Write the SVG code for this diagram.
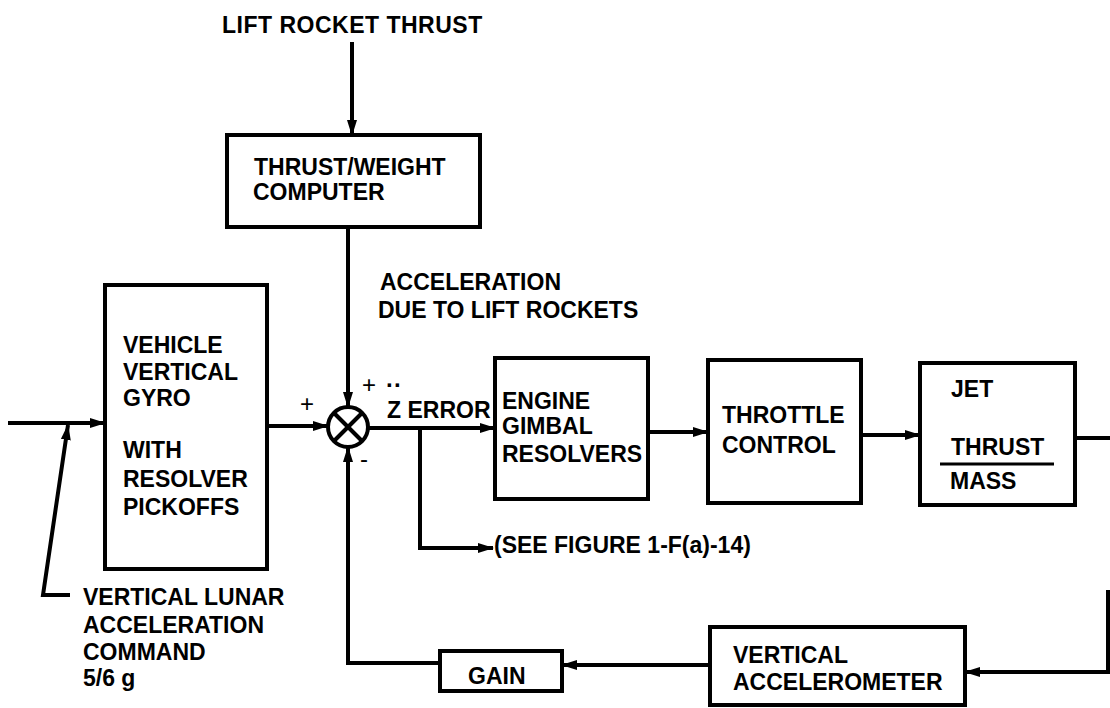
<svg xmlns="http://www.w3.org/2000/svg" width="1110" height="708" viewBox="0 0 1110 708">
<defs>
<marker id="ah" markerUnits="userSpaceOnUse" markerWidth="16" markerHeight="10" refX="15" refY="5" orient="auto">
<path d="M0,0 L16,5 L0,10 z" fill="#000"/>
</marker>
<style>
.box{fill:none;stroke:#000;stroke-width:4}
.ln{fill:none;stroke:#000;stroke-width:4}
.ar{fill:none;stroke:#000;stroke-width:4;marker-end:url(#ah)}
text{font-family:"Liberation Sans",Arial,sans-serif;font-weight:bold;font-size:23px;fill:#000}
.sg{font-weight:normal;font-size:24px}
</style>
</defs>
<rect width="1110" height="708" fill="#fff"/>

<g id="connectors">
<line class="ar" x1="352" y1="42" x2="352" y2="135"/>
<line class="ar" x1="348" y1="227" x2="348" y2="407"/>
<line class="ar" x1="8" y1="423" x2="105" y2="423"/>
<polyline class="ar" points="70,595 43,595 68,425"/>
<line class="ar" x1="267" y1="426" x2="328" y2="426"/>
<line class="ar" x1="368" y1="428" x2="495" y2="428"/>
<polyline class="ar" points="420,428 420,548 493,548"/>
<line class="ar" x1="648" y1="432" x2="708" y2="432"/>
<line class="ar" x1="861" y1="435" x2="920" y2="435"/>
<line class="ln" x1="1075" y1="438" x2="1110" y2="438"/>
<polyline class="ar" points="1108,590 1108,672 965,672"/>
<line class="ar" x1="710" y1="665" x2="562" y2="665"/>
<polyline class="ar" points="440,663 348,663 348,447"/>
</g>

<g id="lift-label">
<text x="222" y="33" letter-spacing="0.5">LIFT ROCKET THRUST</text>
</g>

<g id="tw-computer">
<rect class="box" x="227" y="135" width="253" height="92"/>
<text x="254" y="175">THRUST/WEIGHT</text>
<text x="253" y="200">COMPUTER</text>
</g>

<g id="accel-label">
<text x="380" y="290">ACCELERATION</text>
<text x="378" y="318">DUE TO LIFT ROCKETS</text>
</g>

<g id="vertical-gyro">
<rect class="box" x="105" y="285" width="162" height="284"/>
<text x="123" y="353">VEHICLE</text>
<text x="123" y="380">VERTICAL</text>
<text x="123" y="406">GYRO</text>
<text x="123" y="458">WITH</text>
<text x="123" y="487">RESOLVER</text>
<text x="123" y="515">PICKOFFS</text>
</g>

<g id="summing-junction">
<circle cx="348" cy="427" r="20" fill="#fff" stroke="#000" stroke-width="4"/>
<line class="ln" x1="334" y1="413" x2="362" y2="441"/>
<line class="ln" x1="362" y1="413" x2="334" y2="441"/>
<text class="sg" x="300" y="412">+</text>
<text class="sg" x="362" y="393">+<tspan x="386" style="font-weight:bold">··</tspan></text>
<text class="sg" x="360" y="467">-</text>
</g>

<g id="z-error-label">
<text x="387" y="418">Z ERROR</text>
</g>

<g id="engine-gimbal">
<rect class="box" x="495" y="358" width="153" height="141"/>
<text x="502" y="409">ENGINE</text>
<text x="502" y="434">GIMBAL</text>
<text x="502" y="462">RESOLVERS</text>
</g>

<g id="throttle-control">
<rect class="box" x="708" y="360" width="153" height="143"/>
<text x="722" y="423">THROTTLE</text>
<text x="722" y="453">CONTROL</text>
</g>

<g id="jet">
<rect class="box" x="920" y="363" width="155" height="142"/>
<text x="951" y="397">JET</text>
<text x="951" y="455">THRUST</text>
<line x1="940" y1="464" x2="1054" y2="464" stroke="#000" stroke-width="3"/>
<text x="950" y="489">MASS</text>
</g>

<g id="see-figure">
<text x="494" y="553">(SEE FIGURE 1-F(a)-14)</text>
</g>

<g id="lunar-command">
<text x="83" y="605">VERTICAL LUNAR</text>
<text x="83" y="633">ACCELERATION</text>
<text x="83" y="660">COMMAND</text>
<text x="83" y="686">5/6 g</text>
</g>

<g id="gain">
<rect class="box" x="440" y="651" width="122" height="40"/>
<text x="468" y="684">GAIN</text>
</g>

<g id="vertical-accelerometer">
<rect class="box" x="710" y="627" width="255" height="78"/>
<text x="733" y="663">VERTICAL</text>
<text x="733" y="690">ACCELEROMETER</text>
</g>
</svg>
